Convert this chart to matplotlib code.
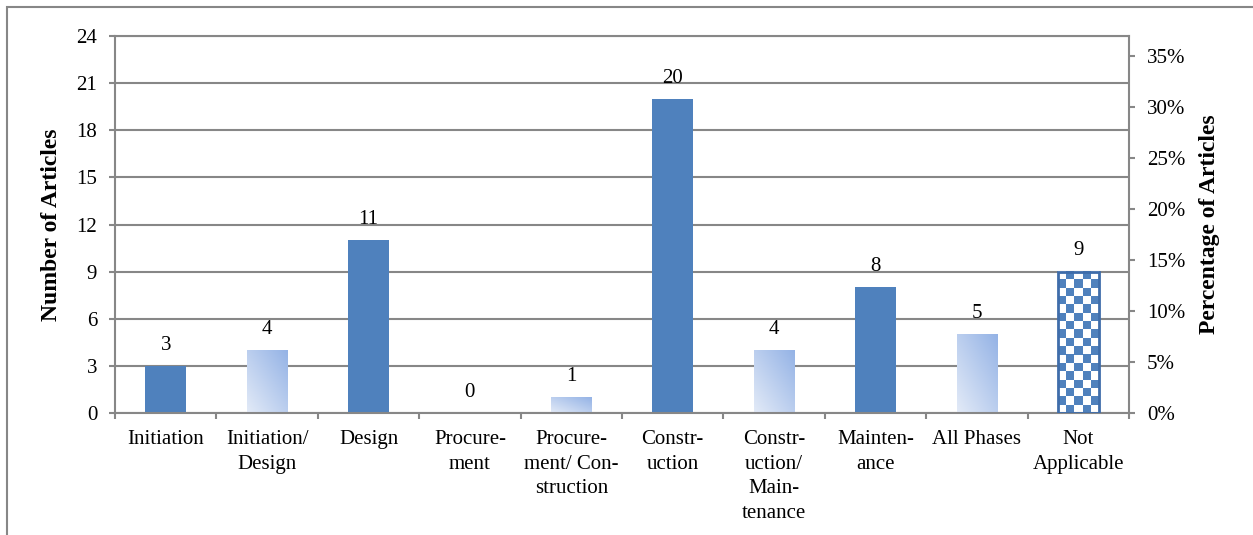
import numpy as np
import matplotlib
matplotlib.use("Agg")
import matplotlib.pyplot as plt
from matplotlib.patches import Rectangle
from matplotlib.ticker import FuncFormatter, MultipleLocator, FixedLocator

phases = ["Initiation", "Initiation/\nDesign", "Design", "Procure-\nment",
          "Procure-\nment/ Con-\nstruction", "Constr-\nuction",
          "Constr-\nuction/\nMain-\ntenance", "Mainten-\nance", "All Phases",
          "Not\nApplicable"]
articles = [3, 4, 11, 0, 1, 20, 4, 8, 5, 9]
fills = ["solid", "gradient", "solid", "solid", "gradient", "solid",
         "gradient", "solid", "gradient", "checker"]

total = sum(articles)
blue = "#4F81BD"
grey = "#878787"
plt.rcParams["font.family"] = ["Liberation Serif", "DejaVu Serif"]

W, H = 1253, 535
fig = plt.figure(figsize=(W / 100, H / 100), dpi=100)
# outer chart frame (only left and top edges fall inside the image)
fig.patches.append(Rectangle((7 / W, -0.1), 1.2, (H - 7) / H + 0.1,
                             transform=fig.transFigure, fill=False,
                             edgecolor=grey, lw=1.5))

ax = fig.add_axes([115 / W, (H - 413) / H, 1014 / W, 377 / H])
ax.set_ylim(0, 24)
ax.set_xlim(-0.5, len(phases) - 0.5)
ax.set_axisbelow(True)
ax.yaxis.grid(True, color=grey, lw=1.5)
for s in ax.spines.values():
    s.set_color(grey)
    s.set_linewidth(1.5)

width = 0.4
x = np.arange(len(phases))
fig.canvas.draw()

def bar_pixels(xc, h):
    p0 = ax.transData.transform((xc - width / 2, 0))
    p1 = ax.transData.transform((xc + width / 2, h))
    return p1[0] - p0[0], p1[1] - p0[1]

for xi, n, style in zip(x, articles, fills):
    ax.annotate(str(n), (xi, n), xytext=(0, 15), textcoords="offset points",
                ha="center", va="center", fontsize=15)
    if n == 0:
        continue
    ext = (xi - width / 2, xi + width / 2, 0, n)
    if style == "solid":
        ax.bar(xi, n, width, color=blue, zorder=2)
    elif style == "gradient":
        u, v = np.meshgrid(np.linspace(0, 1, 60), np.linspace(1, 0, 120))
        t = ((1 - u) + (1 - v)) / 2
        dark = np.array([0.58, 0.70, 0.90])
        light = np.array([0.89, 0.92, 0.97])
        img = dark + (light - dark) * t[..., None]
        ax.imshow(img, extent=ext, aspect="auto", zorder=2,
                  interpolation="bilinear")
    else:
        wpx, hpx = bar_pixels(xi, n)
        cols = 5
        rows = int(round(hpx / (wpx / cols)))
        cells = (np.add.outer(np.arange(rows), np.arange(cols)) % 2)
        cmap = matplotlib.colors.ListedColormap(["white", blue])
        ax.imshow(cells, extent=ext, aspect="auto", zorder=2, cmap=cmap,
                  interpolation="bilinear")
        ax.add_patch(Rectangle((ext[0], 0), width, n, fill=False,
                               edgecolor="#3F6DAA", lw=2, zorder=3))

ax.set_xlim(-0.5, len(phases) - 0.5)
ax.set_ylim(0, 24)
ax.yaxis.set_major_locator(MultipleLocator(3))
ax.tick_params(axis="y", length=4.3, width=1.5, color=grey, pad=8.5,
               labelsize=15)
ax.set_xticks(x)
ax.set_xticklabels(phases, fontsize=15, linespacing=1.42)
ax.xaxis.set_minor_locator(FixedLocator(np.arange(len(phases) + 1) - 0.5))
ax.tick_params(axis="x", which="major", length=0, pad=12)
ax.tick_params(axis="x", which="minor", length=4.3, width=1.5, color=grey)
ax.set_ylabel("Number of Articles", fontsize=17, fontweight="bold")
ax.yaxis.set_label_coords(-0.052, 0.5)

ax2 = ax.twinx()
ax2.set_ylim(0, 24 / total)
ax2.yaxis.set_major_locator(MultipleLocator(0.05))
ax2.yaxis.set_major_formatter(FuncFormatter(lambda v, _: f"{v * 100:.0f}%"))
ax2.tick_params(axis="y", length=4.3, width=1.5, color=grey, pad=8.5,
                labelsize=15)
for s in ax2.spines.values():
    s.set_visible(False)
ax2.set_ylabel("Percentage of Articles", fontsize=17, fontweight="bold")
ax2.yaxis.set_label_coords(1.069, 0.5)

fig.savefig("out.png", dpi=100)
